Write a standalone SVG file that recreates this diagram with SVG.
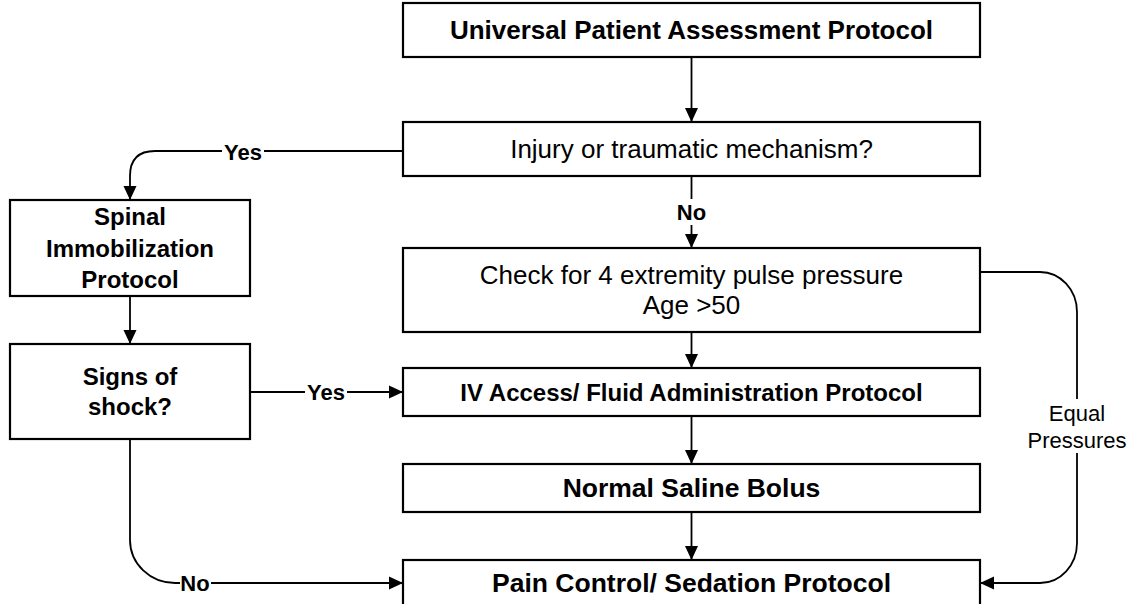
<svg xmlns="http://www.w3.org/2000/svg" width="1139" height="604" viewBox="0 0 1139 604">
  <defs>
    <marker id="arrow" markerUnits="userSpaceOnUse" markerWidth="15" markerHeight="14" refX="14" refY="7" orient="auto">
      <path d="M0,0.5 L14,7 L0,13.5 Z" fill="#000"/>
    </marker>
    <style>
      .box { fill: #fff; stroke: #000; stroke-width: 2.2; }
      .edge { fill: none; stroke: #000; stroke-width: 1.8; }
      .arrow { marker-end: url(#arrow); }
      text { font-family: "Liberation Sans", Arial, sans-serif; fill: #000; text-anchor: middle; dominant-baseline: central; }
      .b { font-weight: bold; }
      .lbl { font-size: 22px; }
      .lblbg { fill: #fff; stroke: none; }
    </style>
  </defs>
  <rect width="1139" height="604" fill="#fff"/>

  <!-- connectors -->
  <g id="connectors">
    <path class="edge arrow" d="M691.5,57 V122"/>
    <path class="edge arrow" d="M691.5,176 V248"/>
    <path class="edge arrow" d="M691.5,332 V368"/>
    <path class="edge arrow" d="M691.5,416 V464"/>
    <path class="edge arrow" d="M691.5,512 V560"/>
    <path class="edge arrow" d="M403,151 H155 Q130,151 130,176 V200"/>
    <path class="edge arrow" d="M130,296 V344"/>
    <path class="edge arrow" d="M250,392 H403"/>
    <path class="edge arrow" d="M130,439 V540 A45,43 0 0 0 175,583 H403"/>
    <path class="edge arrow" d="M980,272 H1040 A37,40 0 0 1 1077,312 V543 A37,40 0 0 1 1040,583 H980"/>

    <!-- edge labels -->
    <rect class="lblbg" x="674" y="199" width="35" height="26"/>
    <text class="lbl b" x="691.5" y="212">No</text>
    <rect class="lblbg" x="222" y="139" width="42" height="26"/>
    <text class="lbl b" x="243" y="152">Yes</text>
    <rect class="lblbg" x="305" y="379" width="42" height="26"/>
    <text class="lbl b" x="326" y="392">Yes</text>
    <rect class="lblbg" x="180" y="570" width="31" height="26"/>
    <text class="lbl b" x="195" y="583">No</text>
    <rect class="lblbg" x="1026" y="399" width="102" height="54"/>
    <text class="lbl" x="1077" y="413">Equal</text>
    <text class="lbl" x="1077" y="440">Pressures</text>
  </g>

  <g id="universal">
    <rect class="box" x="403" y="3" width="577" height="54"/>
    <text class="b" x="691.5" y="30" font-size="26">Universal Patient Assessment Protocol</text>
  </g>

  <g id="injury">
    <rect class="box" x="403" y="122" width="577" height="54"/>
    <text x="691.5" y="149" font-size="26">Injury or traumatic mechanism?</text>
  </g>

  <g id="pulse-check">
    <rect class="box" x="403" y="248" width="577" height="84"/>
    <text x="691.5" y="275" font-size="26">Check for 4 extremity pulse pressure</text>
    <text x="691.5" y="305" font-size="26">Age &gt;50</text>
  </g>

  <g id="iv-access">
    <rect class="box" x="403" y="368" width="577" height="48"/>
    <text class="b" x="691.5" y="392" font-size="24">IV Access/ Fluid Administration Protocol</text>
  </g>

  <g id="saline">
    <rect class="box" x="403" y="464" width="577" height="48"/>
    <text class="b" x="691.5" y="488" font-size="26.5">Normal Saline Bolus</text>
  </g>

  <g id="pain-control">
    <rect class="box" x="403" y="560" width="577" height="60"/>
    <text class="b" x="691.5" y="583" font-size="26.5">Pain Control/ Sedation Protocol</text>
  </g>

  <g id="spinal">
    <rect class="box" x="10" y="200" width="240" height="96"/>
    <text class="b" x="130" y="216" font-size="24">Spinal</text>
    <text class="b" x="130" y="248" font-size="24">Immobilization</text>
    <text class="b" x="130" y="279" font-size="24">Protocol</text>
  </g>

  <g id="shock">
    <rect class="box" x="10" y="344" width="240" height="95"/>
    <text class="b" x="130" y="376" font-size="24">Signs of</text>
    <text class="b" x="130" y="406" font-size="24">shock?</text>
  </g>
</svg>
